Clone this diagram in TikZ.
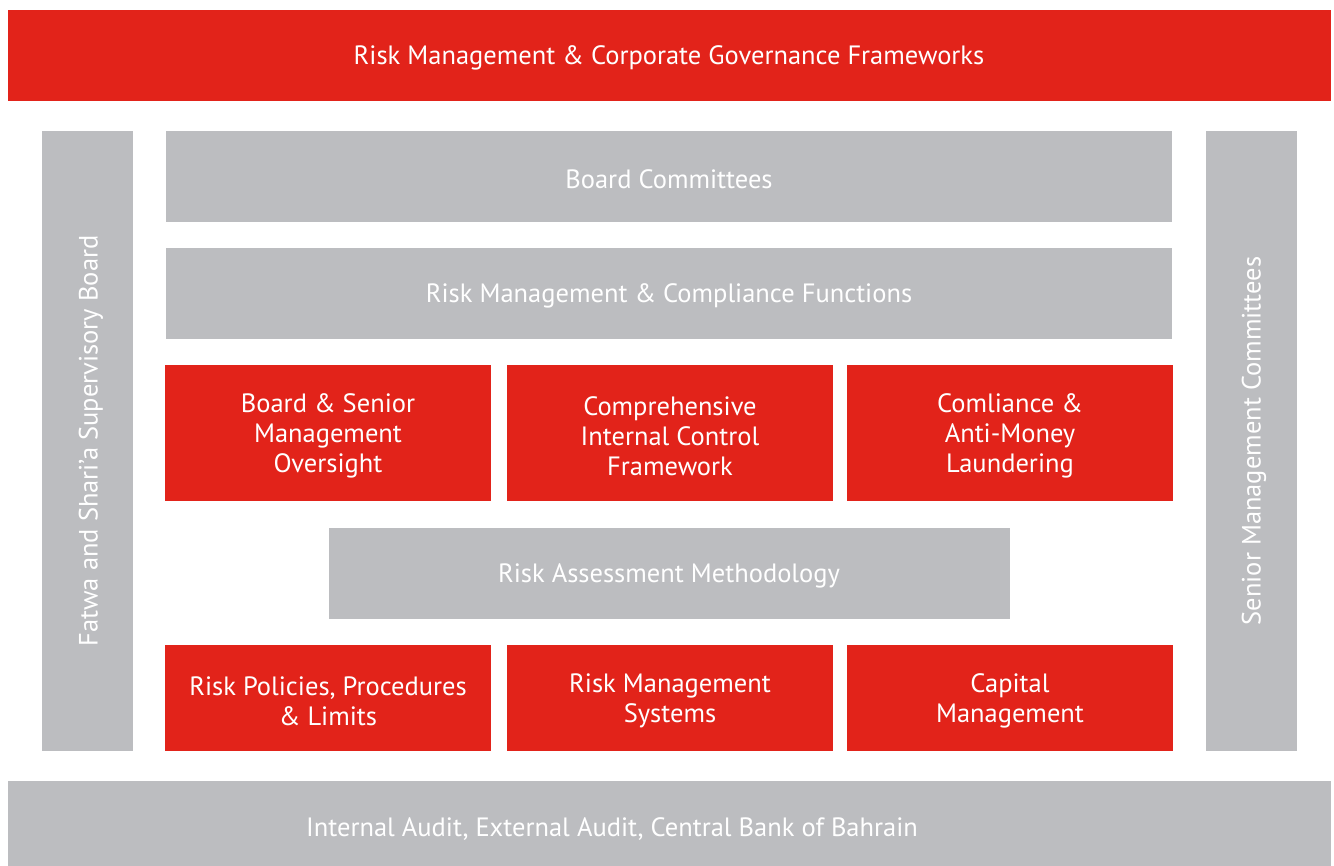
\documentclass[tikz,border=0pt]{standalone}
\usepackage{fontspec}
\setmainfont{PT Sans}
\definecolor{rred}{HTML}{E2231A}
\definecolor{rgray}{HTML}{BCBDC0}
\begin{document}
\begin{tikzpicture}[x=1pt,y=-1pt,
  base/.style={draw=none,text=white,inner sep=0pt,font=\fontsize{26.5}{30}\selectfont,align=center}]
\useasboundingbox (0,0) rectangle (1334,866);
\fill[white] (0,0) rectangle (1334,866);
\fill[rred] (8,10) rectangle (1331,101);
\node[base] (top) at (669,58) {Risk Management \& Corporate Governance Frameworks};
\fill[rgray] (42,131) rectangle (133,751);
\node[base,rotate=90] (left) at (91,441) {Fatwa and Shari’a Supervisory Board};
\fill[rgray] (1206,131) rectangle (1297,751);
\node[base,rotate=90] (right) at (1254,441) {Senior Management Committees};
\fill[rgray] (166,131) rectangle (1172,222);
\node[base] (bc) at (669,179) {Board Committees};
\fill[rgray] (166,248) rectangle (1172,339);
\node[base] (rmc) at (669,296) {Risk Management \& Compliance Functions};
\fill[rred] (165,365) rectangle (491,501);
\node[base] (b1) at (328,436) {Board \& Senior\\Management\\Oversight};
\fill[rred] (507,365) rectangle (833,501);
\node[base] (b2) at (670,436) {Comprehensive\\Internal Control\\Framework};
\fill[rred] (847,365) rectangle (1173,501);
\node[base] (b3) at (1010,436) {Comliance \&\\Anti-Money\\Laundering};
\fill[rgray] (329,528) rectangle (1010,619);
\node[base] (ram) at (669,576) {Risk Assessment Methodology};
\fill[rred] (165,645) rectangle (491,751);
\node[base] (c1) at (328,701) {Risk Policies, Procedures\\\& Limits};
\fill[rred] (507,645) rectangle (833,751);
\node[base] (c2) at (670,701) {Risk Management\\Systems};
\fill[rred] (847,645) rectangle (1173,751);
\node[base] (c3) at (1010,701) {Capital\\Management};
\fill[rgray] (8,781) rectangle (1331,866);
\node[base] (bot) at (612,829) {Internal Audit, External Audit, Central Bank of Bahrain};
\end{tikzpicture}
\end{document}
